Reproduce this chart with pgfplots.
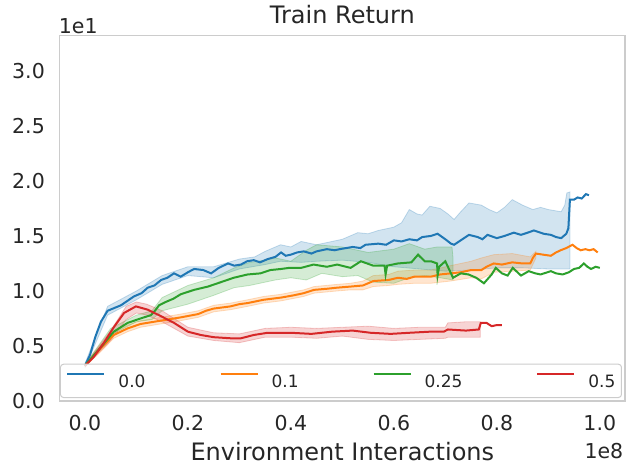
\documentclass[border=0pt]{standalone}
\usepackage{fontspec}
\setmainfont{DejaVu Sans}
\usepackage{pgfplots}
\pgfplotsset{compat=1.18}
\definecolor{c0}{HTML}{1F77B4}
\definecolor{c1}{HTML}{FF7F0E}
\definecolor{c2}{HTML}{2CA02C}
\definecolor{c3}{HTML}{D62728}
\definecolor{textgray}{HTML}{262626}
\definecolor{framegray}{HTML}{CCCCCC}
\begin{document}
\begin{tikzpicture}
\useasboundingbox (-59.7bp,-73bp) rectangle (575.3bp,401bp);
\begin{axis}[
  scale only axis, width=565.3bp, height=365.3bp,
  clip mode=individual,
  xmin=-0.049, xmax=1.049, ymin=0, ymax=3.32,
  axis line style={draw=framegray, line width=1.25bp},
  major tick length=0pt, minor tick num=0,
  xtick={0,0.2,0.4,0.6,0.8,1.0},
  xticklabels={0.0,0.2,0.4,0.6,0.8,1.0},
  ytick={0,0.5,1.0,1.5,2.0,2.5,3.0},
  yticklabels={0.0,0.5,1.0,1.5,2.0,2.5,3.0},
  tick label style={font=\fontsize{20.5bp}{24bp}\selectfont, text=textgray, inner sep=0pt},
  yticklabel style={anchor=east, xshift=-14.7bp},
  xticklabel style={anchor=north, yshift=-14bp},
  title={Train Return},
  title style={at={(axis description cs:0.5,1)}, anchor=base, yshift=6.4bp, inner sep=0pt, font=\fontsize{24bp}{28bp}\selectfont, text=textgray},
  xlabel={Environment Interactions},
  xlabel style={at={(axis description cs:0.5,0)}, anchor=base, yshift=-59bp, inner sep=0pt, font=\fontsize{24bp}{28bp}\selectfont, text=textgray},
  legend columns=4,
  legend image code/.code={\draw[#1, line width=2bp] (0bp,7.2bp) -- (37bp,7.2bp);},
  legend style={
    at={(axis description cs:0,0)}, anchor=south west, xshift=0.3bp, yshift=3bp,
    draw=framegray, line width=1bp, rounded corners=3bp, fill=white, fill opacity=0.8, text opacity=1, draw opacity=1,
    font=\fontsize{17bp}{20bp}\selectfont, text=textgray,
    inner xsep=6bp, inner ysep=9bp,
    nodes={inner sep=0pt},
    /tikz/every odd column/.append style={column sep=13bp},
    /tikz/every even column/.append style={column sep=74bp},
  },
]
% ---- bands (upper edge, then lower edge reversed) ----
\addplot[draw=c0, draw opacity=0.25, line width=0.8bp, fill=c0, fill opacity=0.2, forget plot] coordinates {
(0,0.34) (0.044,0.86) (0.1,1.00) (0.15,1.14) (0.2,1.22) (0.25,1.22) (0.3,1.29) (0.33,1.31) (0.35,1.36) (0.38,1.42) (0.4,1.40) (0.42,1.45) (0.45,1.42) (0.48,1.45) (0.5,1.47) (0.53,1.53) (0.55,1.52) (0.57,1.55) (0.6,1.58) (0.615,1.62) (0.63,1.74) (0.645,1.70) (0.655,1.69) (0.67,1.77) (0.69,1.75) (0.705,1.70) (0.717,1.65) (0.73,1.72) (0.746,1.80) (0.77,1.78) (0.785,1.74) (0.80,1.71) (0.815,1.76) (0.83,1.83) (0.85,1.78) (0.87,1.74) (0.885,1.76) (0.90,1.74) (0.925,1.72) (0.932,1.78) (0.936,1.89) (0.942,1.90)
(0.942,1.20) (0.9,1.20) (0.85,1.21) (0.8,1.21) (0.75,1.19) (0.7,1.18) (0.65,1.20) (0.6,1.22) (0.55,1.26) (0.5,1.28) (0.45,1.27) (0.42,1.26) (0.38,1.27) (0.35,1.24) (0.3,1.20) (0.25,1.12) (0.2,1.14) (0.15,1.06) (0.1,0.92) (0.044,0.78) (0,0.30)};
\addplot[draw=c1, draw opacity=0.25, line width=0.8bp, fill=c1, fill opacity=0.2, forget plot] coordinates {
(0,0.33) (0.031,0.51) (0.056,0.63) (0.083,0.69) (0.108,0.73) (0.134,0.75) (0.16,0.77) (0.186,0.79) (0.22,0.82) (0.25,0.87) (0.283,0.89) (0.316,0.92) (0.347,0.95) (0.381,0.97) (0.425,1.01) (0.445,1.04) (0.49,1.06) (0.516,1.07) (0.54,1.09) (0.56,1.14) (0.59,1.15) (0.608,1.18) (0.64,1.19) (0.672,1.19) (0.71,1.23) (0.75,1.27) (0.77,1.30) (0.794,1.33) (0.83,1.34) (0.865,1.31) (0.876,1.36)
(0.876,1.30) (0.865,1.19) (0.83,1.18) (0.794,1.17) (0.77,1.11) (0.75,1.12) (0.71,1.09) (0.672,1.07) (0.64,1.07) (0.608,1.06) (0.59,1.05) (0.56,1.04) (0.54,1.01) (0.516,1.01) (0.49,1.00) (0.445,0.98) (0.425,0.95) (0.381,0.91) (0.347,0.89) (0.316,0.86) (0.283,0.83) (0.25,0.81) (0.22,0.76) (0.186,0.73) (0.16,0.71) (0.134,0.69) (0.108,0.67) (0.083,0.63) (0.056,0.57) (0.031,0.45) (0,0.31)};
\addplot[draw=c2, draw opacity=0.25, line width=0.8bp, fill=c2, fill opacity=0.2, forget plot] coordinates {
(0,0.33) (0.05,0.66) (0.1,0.78) (0.13,0.82) (0.15,0.94) (0.2,1.05) (0.25,1.12) (0.29,1.21) (0.32,1.26) (0.35,1.28) (0.37,1.30) (0.4,1.27) (0.43,1.37) (0.45,1.42) (0.5,1.40) (0.55,1.35) (0.6,1.38) (0.63,1.43) (0.66,1.38) (0.684,1.40) (0.70,1.40) (0.713,1.40) (0.715,1.30)
(0.715,1.10) (0.69,1.12) (0.66,1.14) (0.63,1.12) (0.6,1.07) (0.56,1.08) (0.53,1.14) (0.5,1.13) (0.46,1.16) (0.43,1.10) (0.4,1.12) (0.37,1.10) (0.32,1.05) (0.29,1.03) (0.25,0.96) (0.2,0.88) (0.15,0.82) (0.13,0.74) (0.1,0.72) (0.05,0.60) (0,0.31)};
\addplot[draw=c3, draw opacity=0.25, line width=0.8bp, fill=c3, fill opacity=0.2, forget plot] coordinates {
(0,0.33) (0.05,0.64) (0.08,0.86) (0.1,0.90) (0.12,0.88) (0.15,0.82) (0.2,0.67) (0.25,0.62) (0.3,0.61) (0.35,0.66) (0.4,0.67) (0.45,0.66) (0.5,0.67) (0.55,0.68) (0.6,0.66) (0.65,0.67) (0.7,0.67) (0.705,0.71) (0.74,0.72) (0.768,0.72)
(0.768,0.58) (0.74,0.58) (0.705,0.58) (0.7,0.57) (0.65,0.56) (0.6,0.55) (0.55,0.56) (0.5,0.59) (0.45,0.57) (0.4,0.58) (0.35,0.58) (0.3,0.53) (0.25,0.55) (0.2,0.59) (0.15,0.72) (0.12,0.78) (0.1,0.80) (0.08,0.74) (0.05,0.55) (0,0.31)};
% ---- lines ----
\addplot[c0, line width=2bp] coordinates {
(0,0.32) (0.01,0.42) (0.02,0.58) (0.031,0.72) (0.044,0.82) (0.07,0.87) (0.095,0.95) (0.11,0.98) (0.122,1.03) (0.135,1.05) (0.148,1.10) (0.16,1.12) (0.173,1.16) (0.186,1.13) (0.2,1.17) (0.212,1.20) (0.23,1.19) (0.245,1.16) (0.26,1.21) (0.278,1.25) (0.29,1.23) (0.303,1.24) (0.315,1.27) (0.328,1.28) (0.34,1.26) (0.355,1.29) (0.37,1.31) (0.381,1.35) (0.39,1.32) (0.40,1.33) (0.412,1.35) (0.425,1.36) (0.44,1.34) (0.45,1.36) (0.47,1.38) (0.485,1.37) (0.495,1.38) (0.52,1.40) (0.535,1.39) (0.545,1.42) (0.57,1.43) (0.585,1.42) (0.60,1.46) (0.615,1.45) (0.63,1.47) (0.645,1.46) (0.655,1.49) (0.672,1.50) (0.685,1.52) (0.70,1.47) (0.711,1.43) (0.717,1.42) (0.73,1.46) (0.746,1.51) (0.763,1.49) (0.772,1.47) (0.782,1.51) (0.80,1.48) (0.815,1.50) (0.833,1.53) (0.847,1.51) (0.86,1.53) (0.872,1.55) (0.891,1.52) (0.905,1.51) (0.915,1.49) (0.925,1.48) (0.935,1.52) (0.939,1.57) (0.942,1.83) (0.95,1.83) (0.957,1.85) (0.965,1.84) (0.973,1.88) (0.979,1.87)};
\addlegendentry{0.0}
\addplot[c1, line width=2bp] coordinates {
(0,0.32) (0.031,0.48) (0.056,0.60) (0.083,0.66) (0.108,0.70) (0.134,0.72) (0.16,0.74) (0.186,0.76) (0.22,0.79) (0.235,0.82) (0.25,0.84) (0.283,0.86) (0.3,0.88) (0.316,0.89) (0.347,0.92) (0.381,0.94) (0.405,0.96) (0.425,0.98) (0.445,1.01) (0.47,1.02) (0.49,1.03) (0.516,1.04) (0.54,1.05) (0.56,1.09) (0.59,1.10) (0.608,1.12) (0.625,1.11) (0.64,1.13) (0.672,1.13) (0.69,1.15) (0.71,1.16) (0.73,1.17) (0.75,1.19) (0.77,1.19) (0.78,1.22) (0.794,1.25) (0.81,1.24) (0.83,1.26) (0.85,1.25) (0.865,1.25) (0.87,1.30) (0.876,1.34) (0.89,1.33) (0.905,1.32) (0.915,1.35) (0.924,1.37) (0.935,1.39) (0.947,1.42) (0.955,1.39) (0.963,1.37) (0.972,1.38) (0.98,1.37) (0.988,1.38) (0.996,1.35)};
\addlegendentry{0.1}
\addplot[c2, line width=2bp] coordinates {
(0,0.32) (0.031,0.49) (0.056,0.63) (0.083,0.71) (0.108,0.75) (0.128,0.78) (0.136,0.82) (0.144,0.87) (0.157,0.90) (0.172,0.93) (0.186,0.97) (0.212,1.01) (0.239,1.04) (0.264,1.08) (0.289,1.12) (0.316,1.15) (0.341,1.16) (0.36,1.19) (0.381,1.20) (0.397,1.21) (0.42,1.21) (0.444,1.24) (0.47,1.22) (0.49,1.24) (0.516,1.21) (0.536,1.27) (0.56,1.23) (0.582,1.23) (0.584,1.15) (0.587,1.23) (0.608,1.25) (0.634,1.26) (0.647,1.33) (0.66,1.27) (0.672,1.27) (0.684,1.25) (0.685,1.14) (0.688,1.22) (0.70,1.27) (0.706,1.21) (0.715,1.12) (0.73,1.16) (0.745,1.15) (0.76,1.12) (0.775,1.07) (0.79,1.15) (0.798,1.21) (0.81,1.16) (0.821,1.14) (0.831,1.21) (0.847,1.14) (0.862,1.18) (0.875,1.16) (0.885,1.15) (0.905,1.18) (0.915,1.16) (0.928,1.15) (0.94,1.17) (0.95,1.20) (0.96,1.21) (0.969,1.25) (0.976,1.22) (0.983,1.20) (0.992,1.22) (1.0,1.21)};
\addlegendentry{0.25}
\addplot[c3, line width=2bp] coordinates {
(0,0.32) (0.017,0.40) (0.037,0.53) (0.056,0.67) (0.076,0.80) (0.099,0.86) (0.122,0.83) (0.148,0.77) (0.173,0.71) (0.2,0.63) (0.225,0.60) (0.25,0.58) (0.283,0.57) (0.303,0.57) (0.328,0.60) (0.355,0.62) (0.38,0.62) (0.40,0.62) (0.44,0.61) (0.48,0.63) (0.52,0.64) (0.555,0.62) (0.594,0.61) (0.63,0.62) (0.67,0.63) (0.697,0.63) (0.705,0.65) (0.74,0.64) (0.765,0.65) (0.769,0.71) (0.78,0.71) (0.79,0.68) (0.80,0.69) (0.81,0.69)};
\addlegendentry{0.5}
\node[anchor=base west, inner sep=0pt, xshift=-1bp, yshift=1.7bp, font=\fontsize{20.5bp}{24bp}\selectfont, text=textgray] at (rel axis cs:0,1) {1e1};
\node[anchor=base east, inner sep=0pt, xshift=-1.6bp, yshift=-57.3bp, font=\fontsize{20.5bp}{24bp}\selectfont, text=textgray] at (rel axis cs:1,0) {1e8};
\end{axis}
\end{tikzpicture}
\end{document}
